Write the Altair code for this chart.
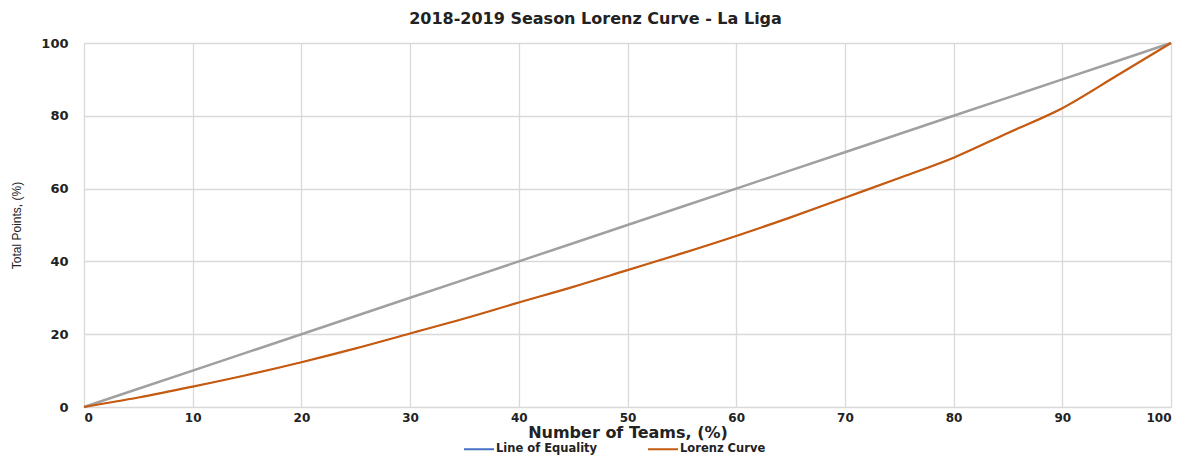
import altair as alt
import pandas as pd

x_pct = [0, 5, 10, 15, 20, 25, 30, 35, 40, 45, 50, 55, 60, 65, 70, 75, 80, 85, 90, 95, 100]
equality = [0, 5, 10, 15, 20, 25, 30, 35, 40, 45, 50, 55, 60, 65, 70, 75, 80, 85, 90, 95, 100]
lorenz = [0, 2.6, 5.6, 8.8, 12.3, 16.1, 20.2, 24.3, 28.7, 33.0, 37.6, 42.2, 47.0, 52.1, 57.5, 62.9, 68.5, 75.3, 82.1, 91.0, 100]
series_names = ["Line of Equality", "Lorenz Curve"]

df = pd.DataFrame(
    {
        "x": x_pct * 2,
        "y": equality + lorenz,
        "series": [series_names[0]] * len(x_pct) + [series_names[1]] * len(x_pct),
    }
)
df_eq = df[df["series"] == series_names[0]]
df_lz = df[df["series"] == series_names[1]]

FONT_BOLD = "DejaVu Sans"

x_enc = alt.X(
    "x:Q",
    scale=alt.Scale(domain=[0, 100], nice=False),
    axis=alt.Axis(
        values=list(range(0, 101, 10)),
        title="Number of Teams, (%)",
        titleFont=FONT_BOLD,
        titleFontSize=16,
        titleFontWeight="bold",
        titleColor="#222222",
        titlePadding=1,
        labelFont=FONT_BOLD,
        labelFontSize=12,
        labelFontWeight="bold",
        labelColor="#222222",
        labelPadding=5,
        ticks=False,
        domain=False,
        grid=True,
        gridColor="#d9d9d9",
        gridWidth=1.3,
    ),
)
y_enc = alt.Y(
    "y:Q",
    scale=alt.Scale(domain=[0, 100], nice=False),
    axis=alt.Axis(
        values=list(range(0, 101, 20)),
        title="Total Points, (%)",
        titleFont="Liberation Sans",
        titleFontSize=12,
        titleFontWeight="normal",
        titleColor="#222222",
        titlePadding=17,
        labelFont=FONT_BOLD,
        labelFontSize=13,
        labelFontWeight="bold",
        labelColor="#222222",
        labelPadding=16,
        ticks=False,
        domain=False,
        grid=True,
        gridColor="#d9d9d9",
        gridWidth=1.3,
    ),
)

legend_lines = (
    alt.Chart(df)
    .mark_line(strokeWidth=1)
    .encode(
        x=x_enc,
        y=y_enc,
        color=alt.Color(
            "series:N",
            scale=alt.Scale(domain=series_names, range=["#4472c4", "#c55a11"]),
            legend=alt.Legend(
                title=None,
                orient="none",
                direction="horizontal",
                legendX=379,
                legendY=390,
                padding=0,
                symbolType="stroke",
                symbolSize=900,
                symbolStrokeWidth=2,
                labelFont=FONT_BOLD,
                labelFontSize=11.5,
                labelFontWeight="bold",
                labelColor="#222222",
                labelOffset=1,
                columnPadding=46,
            ),
        ),
    )
)

eq_line = (
    alt.Chart(df_eq)
    .mark_line(strokeWidth=2.5, color="#a0a0a0")
    .encode(x="x:Q", y="y:Q")
)

lz_line = (
    alt.Chart(df_lz)
    .mark_line(strokeWidth=2.2, color="#c55a11", interpolate="monotone")
    .encode(x="x:Q", y="y:Q")
)

chart = (
    alt.layer(legend_lines, eq_line, lz_line)
    .properties(
        width=1087,
        height=364,
        title=alt.TitleParams(
            "2018-2019 Season Lorenz Curve - La Liga",
            font=FONT_BOLD,
            fontSize=16,
            fontWeight="bold",
            color="#222222",
            anchor="middle",
            dx=-32,
            offset=10,
        ),
        autosize=alt.AutoSizeParams(type="none"),
        padding={"left": 76, "top": 35, "right": 4, "bottom": 48},
    )
    .configure_view(stroke=None)
    .configure(background="white")
)

chart.save("out.html", embed_options={"renderer": "svg", "actions": False})
